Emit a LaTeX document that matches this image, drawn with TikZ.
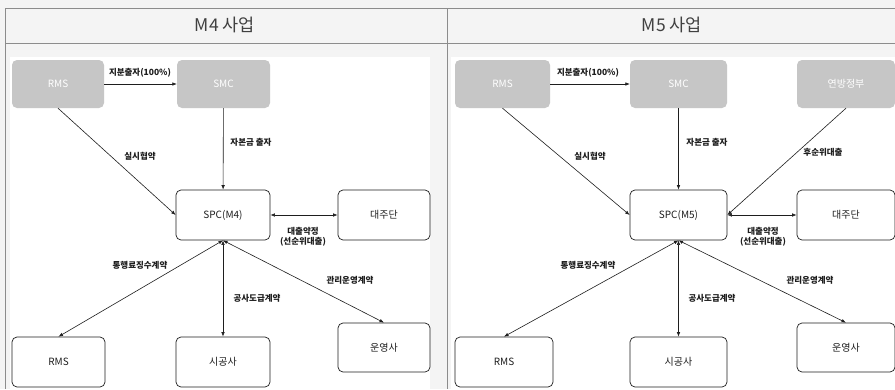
\documentclass[tikz,border=0pt]{standalone}
\usepackage{fontspec}
\setmainfont{Noto Sans CJK KR}
\usetikzlibrary{arrows.meta}

\definecolor{framegray}{HTML}{8C8C8C}
\definecolor{boxgray}{HTML}{C6C6C6}
\definecolor{paper}{HTML}{F4F4F4}
\definecolor{ink}{HTML}{1E1E1E}

\newcommand*{\picw}{895}
\newcommand*{\pich}{389}
\newcommand*{\headfont}{\fontsize{17.5}{20}\selectfont}
\newcommand*{\boxfont}{\fontsize{10}{12}\selectfont}
\newcommand*{\tagfont}{\fontsize{8.5}{10.5}\selectfont\bfseries}

\begin{document}
\begin{tikzpicture}
[
	x=1pt,
	y=-1pt,
	party/.style={draw=ink,line width=0.7pt,rounded corners=5pt,fill=white,minimum height=50pt,inner sep=0pt,font=\boxfont,text=ink},
	owner/.style={fill=boxgray,rounded corners=5pt,minimum height=48pt,inner sep=0pt,font=\boxfont,text=white},
	link/.style={-{Latex[length=4.5pt,width=3.5pt]},line width=0.6pt,ink},
	both/.style={{Latex[length=4.5pt,width=3.5pt]}-{Latex[length=4.5pt,width=3.5pt]},line width=0.6pt,ink},
	tag/.style={font=\tagfont,align=center,inner sep=1pt,text=ink}
]

	\useasboundingbox (0,0) rectangle (\picw,\pich);

	% table
	\fill[paper] (0,0) rectangle (\picw,\pich);
	\fill[white] (10,57) rectangle (430,\pich);
	\fill[white] (451,57) rectangle (\picw,\pich);
	\draw[framegray,line width=0.8pt] (5,\pich) -- (5,8) -- (\picw,8);
	\draw[framegray,line width=0.8pt] (5,43) -- (\picw,43);
	\draw[framegray,line width=0.8pt] (447,8) -- (447,\pich);

	\node[font=\headfont,text=ink!85] (headA) at (225,25) {M4 사업};
	\node[font=\headfont,text=ink!85] (headB) at (672,25) {M5 사업};

	% M4
	\node[owner,minimum width=92pt] (rmsA) at (58,84) {RMS};
	\node[owner,minimum width=93pt] (smcA) at (223.5,84) {SMC};
	\node[party,minimum width=94pt] (spcA) at (223,215) {SPC(M4)};
	\node[party,minimum width=92pt] (lendA) at (384,215) {대주단};
	\node[party,minimum width=93pt] (tollA) at (58.5,362) {RMS};
	\node[party,minimum width=94pt] (buildA) at (223,362) {시공사};
	\node[party,minimum width=92pt,minimum height=49pt] (operA) at (384,347.5) {운영사};

	\draw[link] (rmsA) -- (smcA);
	\draw[link] (smcA) -- (spcA);
	\draw[link] (rmsA.south) -- (spcA.west);
	\draw[both] (spcA) -- (lendA);
	\draw[both] (spcA.south) -- (tollA.north);
	\draw[both] (spcA.south) -- (buildA.north);
	\draw[both] (spcA.south) -- (operA.north);

	\node[tag] (eqA) at (140,73) {지분출자(100\%)};
	\node[tag] (capA) at (251,142) {자본금 출자};
	\node[tag] (conA) at (140,156) {실시협약};
	\node[tag] (loanA) at (303,237) {대출약정\\(선순위대출)};
	\node[tag] (tollTagA) at (140,265) {통행료징수계약};
	\node[tag] (buildTagA) at (257,298) {공사도급계약};
	\node[tag] (operTagA) at (350,280) {관리운영계약};

	% M5
	\node[owner,minimum width=95pt] (rmsB) at (502.5,84) {RMS};
	\node[owner,minimum width=97pt] (smcB) at (678.5,84) {SMC};
	\node[owner,minimum width=98pt] (fedB) at (846,84) {연방정부};
	\node[party,minimum width=97pt] (spcB) at (678.5,215) {SPC(M5)};
	\node[party,minimum width=98pt] (lendB) at (846,215) {대주단};
	\node[party,minimum width=98pt] (tollB) at (504,362) {RMS};
	\node[party,minimum width=97pt] (buildB) at (678.5,362) {시공사};
	\node[party,minimum width=98pt,minimum height=49pt] (operB) at (846,347.5) {운영사};

	\draw[link] (rmsB) -- (smcB);
	\draw[link] (smcB) -- (spcB);
	\draw[link] (rmsB.south) -- (spcB.west);
	\draw[link] (fedB.south) -- (spcB.east);
	\draw[both] (spcB) -- (lendB);
	\draw[both] (spcB.south) -- (tollB.north);
	\draw[both] (spcB.south) -- (buildB.north);
	\draw[both] (spcB.south) -- (operB.north);

	\node[tag] (eqB) at (588,73) {지분출자(100\%)};
	\node[tag] (capB) at (707,142) {자본금 출자};
	\node[tag] (conB) at (590,156) {실시협약};
	\node[tag] (subB) at (823,152) {후순위대출};
	\node[tag] (loanB) at (763,237) {대출약정\\(선순위대출)};
	\node[tag] (tollTagB) at (588,265) {통행료징수계약};
	\node[tag] (buildTagB) at (712,298) {공사도급계약};
	\node[tag] (operTagB) at (810,280) {관리운영계약};

\end{tikzpicture}
\end{document}
